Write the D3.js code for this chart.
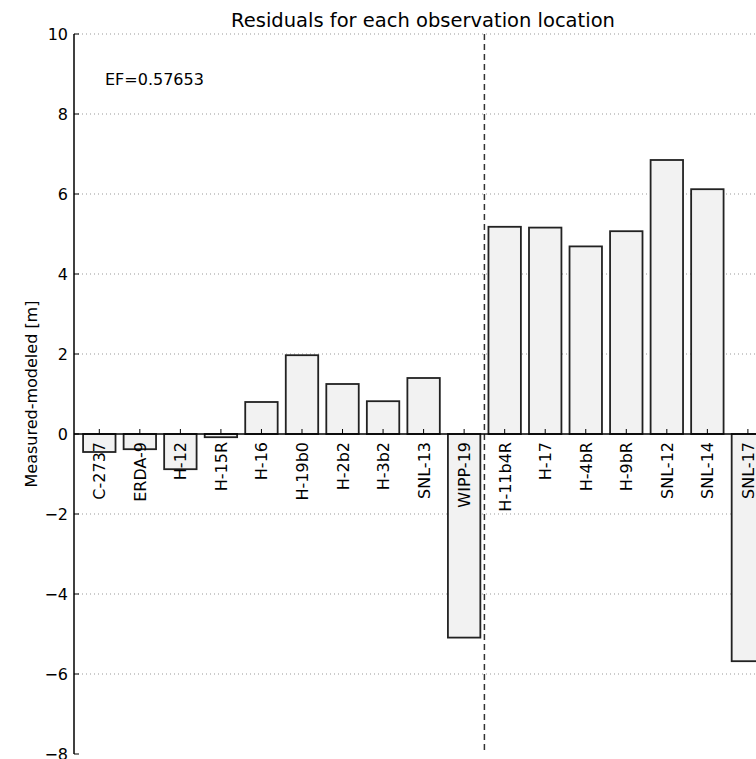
<!DOCTYPE html>
<html>
<head>
<meta charset="utf-8">
<script src="https://cdn.jsdelivr.net/npm/d3@7"></script>
<style>
    body { margin: 0; background: #fff; }
    text { font-family: "DejaVu Sans", sans-serif; fill: #000; }
</style>
</head>
<body>
<div id="root"></div>
<script>
let locations = ['C-2737', 'ERDA-9', 'H-12', 'H-15R', 'H-16', 'H-19b0', 'H-2b2', 'H-3b2', 'SNL-13', 'WIPP-19',
    'H-11b4R', 'H-17', 'H-4bR', 'H-9bR', 'SNL-12', 'SNL-14', 'SNL-17'];
let residuals = [-0.45, -0.38, -0.88, -0.08, 0.8, 1.97, 1.25, 0.82, 1.4, -5.09,
    5.18, 5.16, 4.69, 5.07, 6.85, 6.12, -5.68];
let yTicks = [10, 8, 6, 4, 2, 0, -2, -4, -6, -8];
let gridTicks = [10, 8, 6, 4, 2, -2, -4, -6];
let splitAt = 9.5;
let efLabel = 'EF=0.57653';
let title = 'Residuals for each observation location';
let yLabel = 'Measured-modeled [m]';

let x = d3.scaleLinear().domain([0, 16]).range([99.3, 747.9]);
let y = d3.scaleLinear().domain([-8, 10]).range([754, 34]);
let barWidth = 0.8;
let axisLeft = 74;
let axisRight = 772;

function render() {
    let svg = d3.select('#root').append('svg')
        .attr('width', 756)
        .attr('height', 759);

    // dotted grid
    svg.append('g').selectAll('line')
        .data(gridTicks)
        .enter().append('line')
        .attr('x1', axisLeft).attr('x2', axisRight)
        .attr('y1', d => y(d)).attr('y2', d => y(d))
        .attr('stroke', '#999')
        .attr('stroke-width', 1)
        .attr('stroke-dasharray', '1,3');

    // bars
    svg.append('g').selectAll('rect')
        .data(residuals)
        .enter().append('rect')
        .attr('x', (d, i) => x(i - barWidth / 2))
        .attr('y', d => y(Math.max(0, d)))
        .attr('width', x(barWidth) - x(0))
        .attr('height', d => Math.abs(y(d) - y(0)))
        .attr('fill', '#f2f2f2')
        .attr('stroke', '#222')
        .attr('stroke-width', 1.8);

    // split marker
    svg.append('line')
        .attr('x1', x(splitAt)).attr('x2', x(splitAt))
        .attr('y1', y(10)).attr('y2', y(-8))
        .attr('stroke', '#333')
        .attr('stroke-width', 1.5)
        .attr('stroke-dasharray', '6,4');

    // zero axis with inward ticks
    svg.append('line')
        .attr('x1', axisLeft).attr('x2', axisRight)
        .attr('y1', y(0)).attr('y2', y(0))
        .attr('stroke', '#000')
        .attr('stroke-width', 1.5);

    let xt = svg.append('g').selectAll('g')
        .data(locations)
        .enter().append('g')
        .attr('transform', (d, i) => `translate(${x(i)},${y(0)})`);
    xt.append('line')
        .attr('y1', 0).attr('y2', -5)
        .attr('stroke', '#000');
    xt.append('text')
        .attr('transform', 'translate(6,8) rotate(-90)')
        .attr('text-anchor', 'end')
        .attr('font-size', 16)
        .text(d => d);

    // left spine
    svg.append('line')
        .attr('x1', axisLeft).attr('x2', axisLeft)
        .attr('y1', y(10)).attr('y2', y(-8))
        .attr('stroke', '#000')
        .attr('stroke-width', 1.5);

    let yt = svg.append('g').selectAll('g')
        .data(yTicks)
        .enter().append('g')
        .attr('transform', d => `translate(${axisLeft},${y(d)})`);
    yt.append('line')
        .attr('x1', 0).attr('x2', 5)
        .attr('stroke', '#000');
    yt.append('text')
        .attr('x', -6)
        .attr('dy', '0.36em')
        .attr('text-anchor', 'end')
        .attr('font-size', 16)
        .text(d => d3.format('d')(d).replace('-', '\u2212'));

    svg.append('text')
        .attr('x', 105).attr('y', 85)
        .attr('font-size', 16)
        .text(efLabel);

    svg.append('text')
        .attr('x', 423).attr('y', 27)
        .attr('text-anchor', 'middle')
        .attr('font-size', 19.5)
        .text(title);

    svg.append('text')
        .attr('transform', `translate(37,${y(1)}) rotate(-90)`)
        .attr('text-anchor', 'middle')
        .attr('font-size', 16)
        .text(yLabel);
}

render();
</script>
</body>
</html>
